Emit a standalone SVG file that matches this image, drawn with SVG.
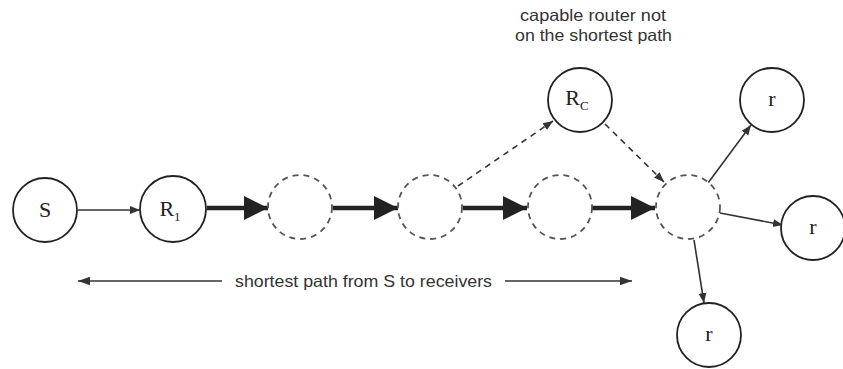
<svg xmlns="http://www.w3.org/2000/svg" width="843" height="369" viewBox="0 0 843 369">
  <style>
    .node { fill: #fff; stroke: #222; stroke-width: 1.8; }
    .ghost { fill: #fff; stroke: #555; stroke-width: 1.8; stroke-dasharray: 6 5; }
    .lbl { font-family: "Liberation Serif", "Times New Roman", serif; font-size: 22px; fill: #222; text-anchor: middle; }
    .sub { font-size: 13px; }
    .note { font-family: "Liberation Sans", Arial, sans-serif; font-size: 16.5px; fill: #333; }
    .thin { stroke: #333; stroke-width: 1.6; fill: none; }
    .thick { stroke: #222; stroke-width: 4.5; fill: none; }
    .dash { stroke: #333; stroke-width: 1.6; fill: none; stroke-dasharray: 6 5; }
  </style>
  <defs>
    <marker id="ah" viewBox="0 0 10 10" refX="10" refY="5" markerWidth="10" markerHeight="10" markerUnits="userSpaceOnUse" orient="auto">
      <path d="M0,1 L10,5 L0,9 z" fill="#333"/>
    </marker>
    <marker id="ahs" viewBox="0 0 10 10" refX="10" refY="5" markerWidth="12" markerHeight="12" markerUnits="userSpaceOnUse" orient="auto">
      <path d="M0,1.5 L10,5 L0,8.5 z" fill="#333"/>
    </marker>
    <marker id="big" viewBox="0 0 10 10" refX="10" refY="5" markerWidth="28" markerHeight="24" markerUnits="userSpaceOnUse" orient="auto">
      <path d="M0,0 L10,5 L0,10 z" fill="#222"/>
    </marker>
  </defs>

  <!-- connectors -->
  <g id="connectors">
    <line class="thin" x1="78" y1="210" x2="140" y2="210" marker-end="url(#ah)"/>
    <line class="thick" x1="207" y1="208" x2="268" y2="208" marker-end="url(#big)"/>
    <line class="thick" x1="333" y1="208" x2="398" y2="208" marker-end="url(#big)"/>
    <line class="thick" x1="463" y1="208" x2="527" y2="208" marker-end="url(#big)"/>
    <line class="thick" x1="592" y1="208" x2="655" y2="208" marker-end="url(#big)"/>
    <line class="dash" x1="458" y1="186" x2="553" y2="121" marker-end="url(#ah)"/>
    <line class="dash" x1="605" y1="124" x2="664" y2="182" marker-end="url(#ah)"/>
    <line class="thin" x1="708" y1="183" x2="751" y2="125" marker-end="url(#ah)"/>
    <line class="thin" x1="720" y1="213" x2="783" y2="225" marker-end="url(#ah)"/>
    <line class="thin" x1="694" y1="240" x2="704" y2="303" marker-end="url(#ah)"/>
    <line class="thin" x1="222" y1="281" x2="78" y2="281" marker-end="url(#ahs)"/>
    <line class="thin" x1="505" y1="281" x2="632" y2="281" marker-end="url(#ahs)"/>
  </g>

  <g id="label-path">
    <text class="note" x="235" y="287" font-size="18" textLength="257" lengthAdjust="spacingAndGlyphs">shortest path from S to receivers</text>
  </g>
  <g id="label-capable">
    <text class="note" x="520" y="21" textLength="146" lengthAdjust="spacingAndGlyphs">capable router not</text>
    <text class="note" x="515" y="41" textLength="157" lengthAdjust="spacingAndGlyphs">on the shortest path</text>
  </g>

  <g id="node-S">
    <circle class="node" cx="45" cy="210" r="32"/>
    <text class="lbl" x="45" y="217">S</text>
  </g>
  <g id="node-R1">
    <circle class="node" cx="173" cy="209" r="33"/>
    <text class="lbl" x="170" y="216">R<tspan class="sub" dy="5">1</tspan></text>
  </g>
  <g id="node-d1">
    <circle class="ghost" cx="300" cy="207" r="32"/>
  </g>
  <g id="node-d2">
    <circle class="ghost" cx="430" cy="207" r="32"/>
  </g>
  <g id="node-d3">
    <circle class="ghost" cx="560" cy="207" r="32"/>
  </g>
  <g id="node-d4">
    <circle class="ghost" cx="688" cy="207" r="32"/>
  </g>
  <g id="node-Rc">
    <circle class="node" cx="580" cy="100" r="32"/>
    <text class="lbl" x="577" y="105">R<tspan class="sub" dy="5">C</tspan></text>
  </g>
  <g id="node-r1">
    <circle class="node" cx="772" cy="100" r="32"/>
    <text class="lbl" x="772" y="106">r</text>
  </g>
  <g id="node-r2">
    <circle class="node" cx="813" cy="228" r="32"/>
    <text class="lbl" x="813" y="234">r</text>
  </g>
  <g id="node-r3">
    <circle class="node" cx="709" cy="335" r="32"/>
    <text class="lbl" x="709" y="341">r</text>
  </g>
</svg>
